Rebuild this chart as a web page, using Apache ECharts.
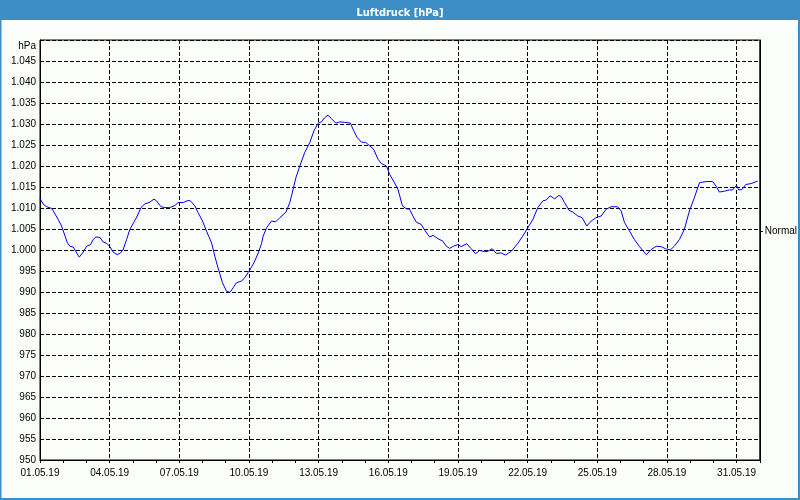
<!DOCTYPE html>
<html>
<head>
<meta charset="utf-8">
<script src="https://cdn.jsdelivr.net/npm/echarts@6/dist/echarts.min.js"></script>
<style>
html,body{margin:0;padding:0;background:#fff;}
#c{width:800px;height:500px;}
</style>
</head>
<body>
<div id="c"></div>
<script>
// ---- data (day offset from 01.05.2019 00:00, pressure in hPa) ----
const days = [
0.00,0.14,0.29,0.50,0.57,0.78,0.93,1.08,1.18,1.29,1.43,1.58,1.69,1.86,2.01,2.18,2.29,2.41,2.58,2.72,
2.87,3.01,3.15,3.32,3.47,3.58,3.73,3.87,4.04,4.19,4.35,4.52,4.70,4.91,5.02,5.21,5.38,5.59,5.81,5.95,
6.17,6.38,6.48,6.67,6.81,7.00,7.17,7.39,7.53,7.67,7.86,8.03,8.18,8.32,8.46,8.68,8.82,9.04,9.21,9.40,
9.54,9.61,9.76,9.97,10.15,10.33,10.59,10.76,10.90,11.02,11.19,11.40,11.62,11.80,11.98,12.12,12.26,12.40,12.55,12.74,
12.91,13.12,13.37,13.51,13.66,13.84,14.03,14.20,14.37,14.56,14.70,14.92,15.06,15.27,15.42,15.61,15.78,15.92,16.06,16.21,
16.42,16.57,16.78,16.93,17.14,17.35,17.50,17.64,17.81,18.00,18.14,18.38,18.57,18.76,18.93,19.15,19.29,19.48,19.65,19.86,
20.05,20.19,20.30,20.58,20.79,21.01,21.23,21.44,21.66,21.80,21.97,22.16,22.35,22.45,22.59,22.78,22.95,23.16,23.35,23.55,
23.74,23.95,24.17,24.38,24.60,24.88,25.03,25.17,25.39,25.60,25.82,26.11,26.32,26.54,26.75,26.94,27.14,27.32,27.54,27.75,
27.97,28.18,28.40,28.69,28.97,29.12,29.26,29.48,29.69,29.83,30.00,30.09,30.23,30.40,30.62,30.91
];
const pressure = [
1012.3,1010.9,1010.3,1009.9,1009.3,1007.3,1005.7,1003.3,1001.7,1000.9,1000.7,999.3,998.3,999.5,1000.9,1001.3,1002.5,1003.1,1003.0,1001.9,
1001.6,1000.8,999.5,998.9,999.3,1000.1,1002.5,1004.9,1006.6,1008.1,1010.1,1011.0,1011.3,1012.1,1011.7,1010.3,1010.1,1010.1,1010.6,1011.3,
1011.3,1011.8,1011.7,1010.5,1008.9,1006.9,1004.5,1001.7,998.5,995.7,992.2,990.2,989.9,991.0,992.2,992.6,993.4,995.3,996.9,999.3,
1001.5,1003.3,1005.3,1006.9,1006.7,1007.7,1009.0,1011.3,1014.4,1017.2,1020.0,1023.2,1025.6,1028.4,1030.2,1030.5,1031.5,1032.1,1031.3,1030.2,
1030.5,1030.4,1030.2,1028.4,1026.8,1025.7,1025.6,1024.8,1024.0,1021.6,1020.6,1020.0,1018.0,1016.0,1014.4,1010.5,1009.8,1009.7,1008.1,1006.6,
1006.1,1004.7,1003.1,1003.5,1002.7,1002.1,1000.9,1000.4,1000.9,1001.3,1000.8,1001.5,1000.3,999.1,999.9,999.6,999.7,1000.3,999.2,999.3,
998.8,999.3,999.7,1001.6,1003.3,1005.3,1007.3,1010.1,1011.7,1011.9,1012.9,1012.2,1013.0,1012.7,1011.3,1009.5,1009.0,1008.1,1007.7,1005.7,
1006.9,1007.7,1008.1,1009.7,1010.3,1010.3,1009.3,1006.6,1004.5,1002.5,1000.8,998.9,1000.1,1000.9,1000.8,1000.3,1000.0,1000.9,1002.5,1004.9,
1009.3,1012.4,1016.0,1016.3,1016.3,1015.2,1013.8,1014.0,1014.3,1014.3,1015.4,1014.3,1014.4,1015.6,1015.8,1016.4
];
const xTickLabels = ['01.05.19','04.05.19','07.05.19','10.05.19','13.05.19','16.05.19','19.05.19','22.05.19','25.05.19','28.05.19','31.05.19'];
const normalValue = 1004.4;
const normalLabel = 'Normal';
const unitLabel = 'hPa';
const titleText = 'Luftdruck [hPa]';

const seriesData = days.map((d, i) => [d, pressure[i]]);

const FONT = '"Liberation Sans", Arial, sans-serif';
const chart = echarts.init(document.getElementById('c'), null, {renderer: 'canvas'});
chart.setOption({
  animation: false,
  backgroundColor: '#fbfdfb',
  title: {
    text: titleText,
    left: 'center',
    top: 3,
    textStyle: {color: '#ffffff', fontSize: 11, fontWeight: 'bold', fontFamily: '"Liberation Sans Narrow", "DejaVu Sans Condensed", sans-serif'}
  },
  graphic: [
    {type: 'rect', z: -1, shape: {x: 0, y: 0, width: 800, height: 20}, style: {fill: '#3c8fc6'}, silent: true},
    {type: 'rect', z: 100, shape: {x: 0.5, y: 0.5, width: 798.5, height: 498.5}, style: {fill: 'none', stroke: '#3c8fc6', lineWidth: 2}, silent: true}
  ],
  grid: {
    left: 40, right: 40, top: 40, bottom: 40,
    show: true, borderColor: '#000', borderWidth: 1, backgroundColor: '#fbfdfb'
  },
  xAxis: {
    type: 'value',
    min: 0, max: 31, interval: 3,
    axisLine: {show: true, lineStyle: {color: '#000', width: 1}},
    axisTick: {show: true, length: 3, lineStyle: {color: '#000'}},
    minorTick: {show: true, splitNumber: 3, length: 3, lineStyle: {color: '#000'}},
    axisLabel: {
      color: '#000', fontSize: 10, fontFamily: FONT, margin: 8,
      showMaxLabel: false,
      formatter: v => (v % 3 === 0 && xTickLabels[v / 3] !== undefined) ? xTickLabels[v / 3] : ''
    },
    splitLine: {show: true, lineStyle: {color: '#000', type: [4, 2], width: 1}}
  },
  yAxis: [
    {
      type: 'value',
      min: 950, max: 1050, interval: 5,
      name: unitLabel,
      nameLocation: 'end',
      nameGap: 0,
      nameTextStyle: {color: '#000', fontSize: 10, fontFamily: FONT, align: 'right', verticalAlign: 'top', padding: [1, 4, 0, 0]},
      axisLine: {show: true, lineStyle: {color: '#000'}},
      axisTick: {show: false},
      axisLabel: {
        color: '#000', fontSize: 10, fontFamily: FONT, margin: 4,
        formatter: v => {
          if (v >= 1050) return '';
          if (v >= 1000) return '1.' + String(v - 1000).padStart(3, '0');
          return String(v);
        }
      },
      splitLine: {show: true, lineStyle: {color: '#000', type: [4, 2], width: 1}}
    },
    {
      type: 'value',
      position: 'right',
      min: 950, max: 1050,
      axisLine: {show: true, lineStyle: {color: '#000'}},
      axisTick: {show: true, length: 3, customValues: [normalValue], lineStyle: {color: '#000'}},
      axisLabel: {
        show: true, color: '#000', fontSize: 10, fontFamily: FONT, margin: 5,
        customValues: [normalValue],
        formatter: () => normalLabel
      },
      splitLine: {show: false}
    }
  ],
  series: [{
    type: 'line',
    yAxisIndex: 0,
    data: seriesData,
    showSymbol: false,
    symbol: 'none',
    lineStyle: {color: '#0000ff', width: 1},
    silent: true
  }]
});
</script>
</body>
</html>
